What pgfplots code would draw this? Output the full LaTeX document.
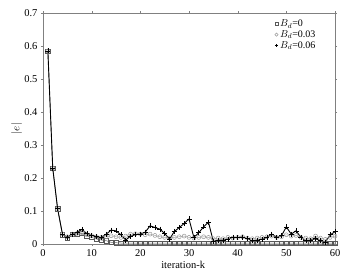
\documentclass[border=0pt]{standalone}
\usepackage{pgfplots}
\pgfplotsset{compat=1.18}
\usepackage{fontspec}
\setmainfont{Liberation Serif}
\pgfplotstableread{
k a b c
1 0.585 0.585 0.585
2 0.230 0.230 0.230
3 0.107 0.107 0.107
4 0.028 0.030 0.030
5 0.018 0.022 0.020
6 0.030 0.028 0.030
7 0.030 0.032 0.036
8 0.032 0.034 0.044
9 0.025 0.028 0.032
10 0.020 0.025 0.026
11 0.015 0.022 0.022
12 0.012 0.020 0.020
13 0.010 0.022 0.030
14 0.005 0.025 0.042
15 0.004 0.022 0.040
16 0.003 0.020 0.028
17 0.003 0.024 0.012
18 0.003 0.030 0.024
19 0.003 0.031 0.028
20 0.003 0.030 0.030
21 0.003 0.028 0.036
22 0.003 0.030 0.055
23 0.003 0.026 0.050
24 0.003 0.022 0.045
25 0.003 0.020 0.032
26 0.003 0.018 0.015
27 0.003 0.020 0.038
28 0.003 0.022 0.050
29 0.003 0.024 0.062
30 0.003 0.020 0.076
31 0.003 0.018 0.020
32 0.003 0.020 0.034
33 0.003 0.022 0.052
34 0.003 0.020 0.066
35 0.003 0.016 0.008
36 0.003 0.018 0.012
37 0.003 0.016 0.012
38 0.003 0.020 0.015
39 0.003 0.018 0.020
40 0.003 0.020 0.020
41 0.003 0.022 0.021
42 0.003 0.018 0.016
43 0.003 0.016 0.010
44 0.003 0.018 0.012
45 0.003 0.020 0.015
46 0.003 0.022 0.020
47 0.003 0.024 0.030
48 0.003 0.020 0.020
49 0.003 0.022 0.025
50 0.003 0.028 0.052
51 0.003 0.024 0.030
52 0.003 0.026 0.040
53 0.003 0.020 0.020
54 0.003 0.018 0.010
55 0.003 0.016 0.012
56 0.003 0.024 0.016
57 0.003 0.018 0.010
58 0.003 0.014 0.005
59 0.003 0.020 0.028
60 0.003 0.024 0.037
}\datatable
\begin{document}
\begin{tikzpicture}
\path[use as bounding box] (-43pt,-30pt) rectangle (307pt,244pt);
\begin{axis}[
  at={(0,0)}, anchor=south west,
  scale only axis, width=292pt, height=231pt,
  xmin=0, xmax=60, ymin=0, ymax=0.7,
  xtick={0,10,...,60}, ytick={0,0.1,...,0.7},
  yticklabel style={/pgf/number format/fixed, /pgf/number format/precision=1},
  /pgf/number format/assume math mode=true,
  tick label style={font=\fontsize{10.5}{12}\selectfont},
  tick align=outside, major tick length=2pt,
  axis line style={gray, line width=0.8pt},
  tick style={gray},
  xlabel={iteration-k},
  ylabel={$|e|$},
  label style={font=\fontsize{10.5}{12}\selectfont},
  xlabel style={at={(axis description cs:0.48,-0.09)}, anchor=center},
  ylabel style={at={(axis description cs:-0.09,0.5)}, anchor=center},
  legend style={draw=none, fill=none, at={(axis description cs:0.79,0.985)}, anchor=north west,
    font=\fontsize{10}{11}\selectfont, row sep=-1.5pt, inner sep=1pt},
  legend cell align=left,
  legend image code/.code={\draw[#1, mark size=1.6pt] plot[only marks] coordinates {(0.1cm,0cm)};},
  clip=false,
]
\addplot[black!60, line width=0.5pt, mark=square, mark size=2.2pt, mark options={black!65, solid}] table[x=k,y=a]{\datatable};
\addlegendentry{$B_d$=0}
\addplot[black!35, line width=0.5pt, mark=o, mark size=2pt, mark options={black!40, solid}] table[x=k,y=b]{\datatable};
\addlegendentry{$B_d$=0.03}
\addplot[black, line width=0.9pt, mark=+, mark size=2.5pt, mark options={black, solid, line width=0.6pt}] table[x=k,y=c]{\datatable};
\addlegendentry{$B_d$=0.06}
\end{axis}
\end{tikzpicture}
\end{document}
